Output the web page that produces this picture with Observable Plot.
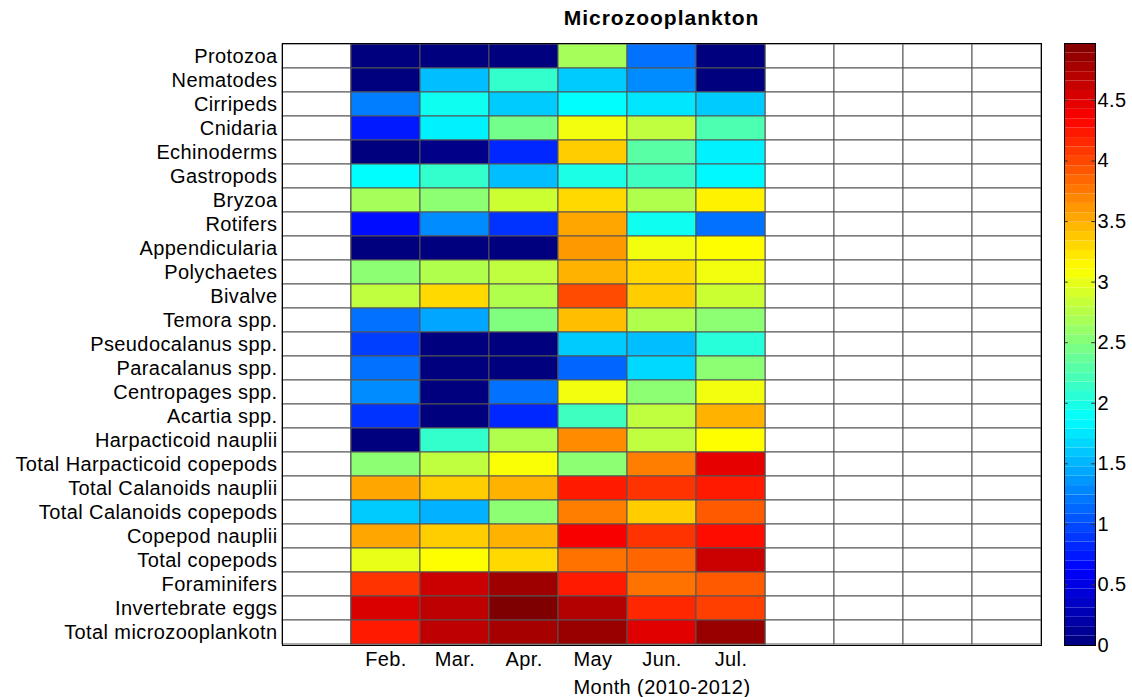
<!DOCTYPE html>
<html><head><meta charset="utf-8">
<script src="https://cdn.jsdelivr.net/npm/d3@7"></script>
<script src="https://cdn.jsdelivr.net/npm/@observablehq/plot@0.6"></script>
<style>
body{margin:0;background:#fff;font-family:"Liberation Sans",Arial,sans-serif;}
#wrap{position:relative;width:1132px;height:697px;}
#title{position:absolute;top:6px;left:282px;width:759px;text-align:center;font-weight:bold;font-size:21px;letter-spacing:1px;color:#000;}
#main{position:absolute;left:0;top:0;}
#cbar{position:absolute;left:1040px;top:0;}
svg text{letter-spacing:0.4px;}
</style></head>
<body><div id="wrap"><div id="title">Microzooplankton</div><div id="main"></div><div id="cbar"></div></div>
<script>
const taxa = ["Protozoa","Nematodes","Cirripeds","Cnidaria","Echinoderms","Gastropods","Bryzoa","Rotifers","Appendicularia","Polychaetes","Bivalve","Temora spp.","Pseudocalanus spp.","Paracalanus spp.","Centropages spp.","Acartia spp.","Harpacticoid nauplii","Total Harpacticoid copepods","Total Calanoids nauplii","Total Calanoids copepods","Copepod nauplii","Total copepods","Foraminifers","Invertebrate eggs","Total microzooplankotn"];
const months = ["Feb.","Mar.","Apr.","May","Jun.","Jul."];
// values per taxon, Feb..Jul
const feb = [0,0,1.24,0.75,0,1.86,2.67,0.68,0,2.55,2.80,1.18,0.93,1.18,1.30,0.87,0,2.55,3.54,1.61,3.54,3.00,4.10,4.53,4.22];
const mar = [0,1.55,1.93,1.80,0.05,2.11,2.55,1.30,0,2.73,3.29,1.43,0,0,0,0,2.11,2.80,3.35,1.49,3.35,3.11,4.60,4.66,4.66];
const apr = [0,2.11,1.61,2.42,0.81,1.55,2.86,0.87,0,2.80,2.73,2.49,0,0,1.18,0.81,2.73,3.08,3.48,2.55,3.48,3.29,4.82,4.97,4.78];
const may = [2.67,1.61,1.86,3.04,3.35,1.99,3.29,3.54,3.60,3.48,3.98,3.42,1.61,1.12,3.04,2.17,3.67,2.55,4.22,3.73,4.38,3.79,4.22,4.72,4.85];
const jun = [1.18,1.30,1.74,2.80,2.30,2.17,2.73,1.93,3.04,3.29,3.35,2.73,1.55,1.68,2.55,2.80,2.80,3.73,4.10,3.35,4.10,3.85,3.79,4.16,4.50];
const jul = [0,0,1.61,2.24,1.80,1.83,3.17,1.18,3.11,3.04,2.86,2.55,2.05,2.55,3.04,3.48,3.11,4.47,4.22,3.91,4.29,4.60,3.91,4.04,4.85];
const colTicks = [0,0.5,1,1.5,2,2.5,3,3.5,4,4.5];
const cmax = 4.97;
const jetColors = ["#00007F","#0000FF","#007FFF","#00FFFF","#7FFF7F","#FFFF00","#FF7F00","#FF0000","#7F0000"];

const series = [feb, mar, apr, may, jun, jul];
const nCols = 11; // 1 empty before, 6 months, 4 empty after
const cols = d3.range(nCols);
const data = [];
series.forEach((s, j) => s.forEach((v, i) => data.push({taxon: taxa[i], col: j + 1, v})));
const blanks = [];
taxa.forEach(t => cols.forEach(c => blanks.push({taxon: t, col: c})));

const colorOpts = {type: "linear", domain: d3.range(jetColors.length).map(i => i * cmax / (jetColors.length - 1)), range: jetColors, clamp: true};
const FS = 20;

const main = Plot.plot({
  width: 1050, height: 697,
  marginLeft: 282, marginRight: 9, marginTop: 43, marginBottom: 52,
  style: {fontFamily: "'Liberation Sans', Arial, sans-serif", fontSize: FS + "px", color: "#000", background: "transparent"},
  x: {type: "band", domain: cols, padding: 0, axis: null},
  y: {type: "band", domain: taxa, padding: 0, axis: null},
  color: colorOpts,
  marks: [
    Plot.cell(blanks, {x: "col", y: "taxon", fill: "white", stroke: "#555", strokeWidth: 1}),
    Plot.cell(data, {x: "col", y: "taxon", fill: "v", stroke: "#555", strokeWidth: 1}),
    Plot.frame({stroke: "#000", strokeWidth: 1}),
    Plot.axisY({tickSize: 0, tickPadding: 5, fontSize: FS, label: null}),
    Plot.axisX([1,2,3,4,5,6], {tickSize: 0, tickPadding: 6, fontSize: FS, tickFormat: i => months[i - 1], label: null}),
    Plot.text(["Month (2010-2012)"], {frameAnchor: "bottom", dy: 48, fontSize: FS, lineAnchor: "bottom"})
  ]
});
document.getElementById("main").appendChild(main);

const bands = d3.range(64).map(i => ({y1: i * cmax / 64, y2: (i + 1) * cmax / 64, v: (i + 0.5) * cmax / 64}));
const cbar = Plot.plot({
  width: 92, height: 697,
  marginLeft: 24, marginRight: 37, marginTop: 43, marginBottom: 52,
  style: {fontFamily: "'Liberation Sans', Arial, sans-serif", fontSize: FS + "px", color: "#000", background: "transparent"},
  x: {domain: [0, 1], axis: null},
  y: {domain: [0, cmax], axis: null},
  color: colorOpts,
  marks: [
    Plot.rect(bands, {x1: 0, x2: 1, y1: "y1", y2: "y2", fill: "v", inset: 0}),
    Plot.ruleY(colTicks, {x1: 0, x2: 0.12, stroke: "#333", strokeWidth: 1}),
    Plot.ruleY(colTicks, {x1: 0.88, x2: 1, stroke: "#333", strokeWidth: 1}),
    Plot.frame({stroke: "#000", strokeWidth: 1}),
    Plot.axisY(colTicks, {anchor: "right", tickSize: 0, tickPadding: 2, fontSize: FS, label: null, tickFormat: d => String(d)})
  ]
});
document.getElementById("cbar").appendChild(cbar);
</script></body></html>
